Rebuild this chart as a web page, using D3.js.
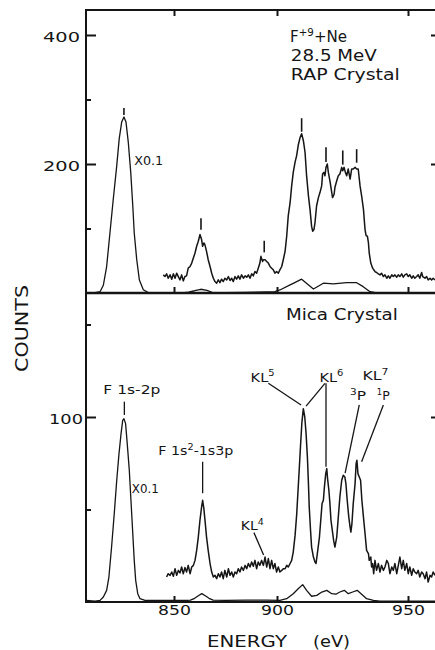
<!DOCTYPE html>
<html><head><meta charset="utf-8">
<script src="https://cdn.jsdelivr.net/npm/d3@7"></script>
<style>
body{margin:0;background:#fff}
svg{display:block}
text{font-family:"DejaVu Sans",sans-serif;fill:#151515}
</style>
</head><body>
<svg id="chart" width="435" height="650"></svg>
<script>
// ---------- data (energy in eV, counts) ----------
const energyTicks = [850, 900, 950];
const topMajorTicks = [200, 400];
const topMinorTicks = [100, 300];
const botMajorTicks = [100];
const botMinorTicks = [50, 150];

// RAP crystal, x0.1 trace
const topScaled = [
[807.3,0],[811.7,0.5],[814.1,2],[815.7,12],[817.3,41],[818.9,93],[820.5,145],[822.2,197],[823.4,239],[824.6,265],[825.7,273],
[826.7,265],[827.8,234],[829.0,187],[830.0,135],[830.7,93],[831.9,52],[833.2,20],[835.1,5],[837.5,0.5],[845,0.5],[855,0.5],
[857,1.5],[860,3.5],[863,5.8],[866,4],[868.5,1],[875,0.5],[885,0.8],[890,1.2],[895,1.8],[899,2],[901.1,4.7],[905,12.5],[906.2,15],
[909.4,21.4],[913.9,6.2],[917.7,15.2],[921.5,14],[926.6,16],[930.4,16],[932.9,9.8],[935.5,2],[938.1,0],[950,0],[961,0]
];
// RAP crystal, full-scale spectrum
const topSpectrum = [
[844.8,28.1],[845.6,25.5],[846.4,29.7],[847.2,22.9],[848.1,28.1],[848.9,21.4],[849.7,29.7],[850.5,22.9],[851.3,30.7],[852.1,25.5],
[852.9,20.3],[853.7,28.1],[854.5,18.8],[855.3,25.5],[856.1,26.6],[856.9,38.5],[857.8,41.1],[858.6,46.4],[859.4,54.2],[860.2,62],
[861.0,72.4],[861.8,80.2],[862.6,90.6],[863.4,82.8],[863.9,72.4],[864.5,77.6],[865.0,75],[865.8,64.6],[866.6,51.6],[867.5,41.1],
[868.3,30.7],[869.1,22.9],[869.9,17.7],[870.7,15.1],[871.5,20.3],[872.3,16.1],[873.1,21.4],[873.9,17.7],[874.7,22.9],[875.6,20.3],
[876.4,25.5],[877.2,19.3],[878.0,22.9],[878.8,17.7],[879.6,25.5],[880.4,21.4],[881.2,26.6],[882.0,21.4],[882.8,28.1],[883.7,22.9],
[884.5,26.6],[885.3,24.5],[886.1,28.1],[886.9,22.9],[887.7,29.7],[888.5,26.6],[889.3,33.3],[890.1,30.7],[890.9,38.5],[891.7,46.4],
[892.2,56.8],[893.0,48.9],[893.4,51.6],[894.2,51.6],[895.0,48.9],[895.8,46.4],[896.6,41.1],[897.4,38.5],[898.2,35.9],[899.0,30.7],
[899.8,33.3],[900.5,30.7],[901.1,35.9],[901.8,41.1],[902.4,51.6],[903.1,65],[903.7,88],[904.3,120],[905.0,140],[905.6,166],
[906.2,187],[906.9,203],[907.5,213],[908.1,229],[908.8,241],[909.4,247],[910.05,236.5],[910.7,218.2],[911.3,181.8],[912.0,150.5],
[912.6,129.7],[913.2,103.6],[913.6,95.8],[914.1,98.4],[914.5,108.9],[915.1,134.9],[915.8,147.9],[916.4,155.7],[917.05,166],[917.4,184.4],
[917.9,187],[918.3,181.8],[918.7,194.8],[919.2,200],[919.6,187],[920.2,174],[920.9,155.7],[921.2,147.9],[921.8,153.1],[922.1,163.5],
[922.8,174],[923.4,181.8],[924.0,184.4],[924.7,194.8],[925.1,189.6],[925.6,194.8],[926.1,187],[926.6,181.8],[927.2,192.2],[927.9,176.6],
[928.5,192.2],[929.1,192.2],[929.8,194.8],[930.4,192.2],[931.0,192.2],[931.7,166],[932.3,150.5],[933.0,129.7],[933.6,98.4],[934.0,89],
[934.5,88],[934.9,77.6],[935.2,62],[935.8,46.4],[936.5,38.5],[937.4,33.3],[938.0,31.8],[938.7,29.7],[939.3,28.1],[939.9,30.7],
[940.6,25.5],[941.2,28.1],[941.9,22.9],[942.5,26.6],[943.1,22.9],[943.8,28.1],[944.4,25.5],[945.0,28.1],[945.7,24.5],[946.3,28.1],
[946.9,25.5],[947.6,29.7],[948.2,24.5],[948.8,28.1],[949.5,29.7],[950.1,25.5],[950.7,28.1],[951.4,22.9],[952.0,26.6],[952.6,22.9],
[953.3,25.5],[953.9,28.1],[954.5,22.9],[955.2,31.8],[955.6,25.5],[956.5,22.9],[957.1,25.5],[957.7,20.3],[958.4,22.9],[959.0,20.3],
[959.6,22.9],[960.3,20.3]
];
// Mica crystal, x0.1 trace
const botScaled = [
[807.3,0.9],[811.7,0.5],[814.1,0.9],[815.7,2.7],[817.3,6.3],[818.4,13.5],[819.7,29.7],[821.0,47.8],[822.2,65.8],[823.3,80.2],
[824.3,91],[825.1,98.2],[825.7,99.1],[826.5,96.4],[827.3,85.6],[828.3,71.2],[829.1,55],[829.9,38.8],[830.7,22.5],[831.4,11.7],
[832.4,4.5],[833.5,1.8],[835.9,0.9],[845,0.9],[855,0.8],[858,1],[860,2],[862,3.5],[863.5,4.5],[865,3.5],[867,2],[869,1],
[875,0.9],[885,1],[895,1],[901.1,0.9],[903.7,1.8],[906.2,4.5],[908.1,7.2],[909.8,9.4],[911.3,6.3],[913.2,3.1],[915.2,3.6],
[917.1,5.4],[919.0,6.3],[920.9,4.5],[922.5,4.2],[924.0,5.4],[925.7,6.3],[927.2,4.5],[928.9,5.4],[930.6,6.3],[932.3,4.2],
[934.2,1.8],[936.8,0.9],[939.3,0.5],[950,0.5],[961,0.5]
];
// Mica crystal, full-scale spectrum
const botSpectrum = [
[846.4,13.5],[847.2,15.3],[848.1,14.4],[848.9,16.2],[849.7,13.9],[850.5,18],[851.3,14.4],[852.1,17.1],[852.9,15.7],[853.7,18.9],
[854.5,15.3],[855.3,18.6],[856.1,16.2],[856.9,19.8],[857.8,15.3],[858.6,18.9],[859.4,19.8],[860.2,22.5],[861.0,27.9],[861.8,35.1],
[862.6,44.2],[863.4,51.4],[863.9,55],[864.5,50.5],[865.2,42.4],[865.8,35.1],[866.6,27.9],[867.5,20.8],[868.3,16.2],[869.1,13.5],
[869.9,14.4],[870.7,12.6],[871.5,15.3],[872.3,13.5],[873.1,16.2],[873.9,12.6],[874.7,17.1],[875.6,13.5],[876.4,18],[877.2,14.4],
[878.0,16.2],[878.8,13.5],[879.6,16.2],[880.4,15.3],[881.2,18],[882.0,16.2],[882.8,18.9],[883.7,17.1],[884.5,19.8],[885.3,18],
[886.1,20.8],[886.9,18.9],[887.7,21.6],[888.5,19.3],[889.3,22.5],[890.1,18],[890.9,21.6],[891.7,19.8],[892.5,22.5],[893.4,19.8],
[894.2,24.3],[895.0,18.9],[895.8,23.5],[896.6,18],[897.4,22.5],[898.2,18],[899.0,20.8],[899.8,16.2],[900.5,18.9],[901.1,16.2],
[901.8,17.1],[902.4,18],[903.1,18],[903.7,19.8],[904.3,18.9],[905.0,20.8],[905.6,22.5],[906.2,27],[906.9,36],[907.5,47],
[908.1,62],[908.5,72],[909.0,85],[909.5,97],[910.05,104.5],[910.6,100],[911.1,91],[911.6,78.4],[912.0,64],[912.3,51.4],
[912.8,38.8],[913.2,29.7],[913.9,24.3],[914.5,21.6],[914.9,20.8],[915.4,26.2],[916.2,35.1],[916.7,44.2],[917.2,53.2],[917.7,55],
[918.1,62.2],[918.6,69.4],[919.0,72.1],[919.3,66.7],[919.8,60.4],[920.2,53.2],[920.6,44.2],[921.1,38.8],[921.6,33.4],[922.1,29.7],
[922.8,35.1],[923.4,45.9],[924.0,56.8],[924.7,65.8],[925.3,68.5],[925.9,67.6],[926.3,64],[926.8,55],[927.4,45.9],[927.9,40.5],
[928.2,37.8],[928.6,42.4],[929.1,53.2],[929.8,64],[930.2,74.8],[930.5,76.6],[930.9,69.4],[931.4,67.6],[931.9,65.8],[932.4,55],
[933.0,45.9],[933.6,37],[934.2,27.9],[934.9,26.2],[935.2,22.5],[935.8,24.3],[936.1,18.9],[936.5,20.8],[936.9,15.3],[937.4,22.5],
[938.0,17.1],[938.7,20.8],[939.3,16.2],[939.9,19.8],[940.6,17.1],[941.2,18.9],[941.9,22.5],[942.5,20.8],[943.1,15.3],[943.8,18.9],
[944.4,17.1],[945.0,20.8],[945.7,15.3],[946.3,19.8],[946.9,24.3],[947.6,18],[948.2,22.5],[948.8,17.1],[949.5,20.8],[950.1,15.3],
[950.7,18.9],[951.4,14.4],[952.0,18],[952.6,16.2],[953.3,15.3],[953.9,17.1],[954.5,13.5],[955.2,16.2],[955.8,15.3],[956.5,12.6],
[957.1,16.2],[957.7,10.8],[958.4,14.4],[959.0,13.5],[959.6,16.2],[960.3,14.4]
];
// peak markers in the RAP panel: [energy, count low, count high]
const topMarkers = [[825.7,276,287],[863.1,98,116],[893.8,63,81],[909.4,250,271],[918.7,203,226],[925.1,199,221],[930.4,202,223]];
// leader lines in the mica panel: [E1, c1, E2, c2]
const botLeaders = [
[825.9,108.3,825.9,101.1],[863.9,75.8,863.9,58.8],[888.8,37.5,893.5,25.4],[895.8,118.2,909.2,106.5],
[918.3,118.2,911.1,105.9],[918.7,118.2,918.7,73.1],[931.4,106.5,926.0,69.6],[940.6,106.5,932.3,75.8]
];

// ---------- layout ----------
const L = 86, R = 441, T = 10, M = 293, B = 602;
const svg = d3.select("#chart");
const x = d3.scaleLinear().domain(energyTicks).range([174, 277, 408]);
const yTop = d3.scaleLinear().domain([0, 400]).range([M, 35]);
const yBot = d3.scaleLinear().domain([0, 100]).range([B, 417]);

const defs = svg.append("defs");
defs.append("clipPath").attr("id","clipTop").append("rect").attr("x",L).attr("y",T).attr("width",R-L).attr("height",M-T);
defs.append("clipPath").attr("id","clipBot").append("rect").attr("x",L).attr("y",M).attr("width",R-L).attr("height",B-M);

const ink = "#151515";

function styleAxis(g){
  g.select(".domain").remove();
  g.selectAll(".tick line").attr("stroke", ink).attr("stroke-width", 2);
  g.selectAll(".tick text").attr("fill", ink).style("font-size","14.5px").attr("font-family","DejaVu Sans");
}

// left axes
svg.append("g").attr("transform",`translate(${L},0)`)
  .call(d3.axisLeft(yTop).tickValues(topMajorTicks).tickSize(-10).tickPadding(6))
  .call(styleAxis).call(g=>g.selectAll(".tick text").attr("dy","0.45em").attr("textLength",37).attr("lengthAdjust","spacingAndGlyphs"));
svg.append("g").attr("transform",`translate(${L},0)`)
  .call(d3.axisLeft(yTop).tickValues(topMinorTicks).tickSize(-5).tickFormat(""))
  .call(styleAxis);
svg.append("g").attr("transform",`translate(${L},0)`)
  .call(d3.axisLeft(yBot).tickValues(botMajorTicks).tickSize(-10).tickPadding(3))
  .call(styleAxis).call(g=>g.selectAll(".tick text").attr("dy","0.45em").attr("textLength",34).attr("lengthAdjust","spacingAndGlyphs"));
svg.append("g").attr("transform",`translate(${L},0)`)
  .call(d3.axisLeft(yBot).tickValues(botMinorTicks).tickSize(-5).tickFormat(""))
  .call(styleAxis);
// right axes
svg.append("g").attr("transform",`translate(${R},0)`)
  .call(d3.axisRight(yTop).tickValues(topMajorTicks).tickSize(-10).tickFormat("")).call(styleAxis);
svg.append("g").attr("transform",`translate(${R},0)`)
  .call(d3.axisRight(yBot).tickValues(botMajorTicks).tickSize(-10).tickFormat("")).call(styleAxis);
// x ticks
svg.append("g").attr("transform",`translate(0,${T})`)
  .call(d3.axisTop(x).tickValues(energyTicks).tickSize(-6).tickFormat("")).call(styleAxis);
svg.append("g").attr("transform",`translate(0,${M})`)
  .call(d3.axisBottom(x).tickValues(energyTicks).tickSize(-6).tickFormat("")).call(styleAxis);
svg.append("g").attr("transform",`translate(0,${B})`)
  .call(d3.axisBottom(x).tickValues(energyTicks).tickSize(-6).tickPadding(3))
  .call(styleAxis).call(g=>g.selectAll(".tick text").attr("textLength",33).attr("lengthAdjust","spacingAndGlyphs"));

// frame
const frame = svg.append("g").attr("stroke", ink).attr("stroke-width", 2).attr("fill","none");
frame.append("path").attr("d", `M${R},${T}H${L}V${B}H${R}`);
frame.append("path").attr("d", `M${L},${M}H${R}`).attr("stroke-width", 2.4);

// curves
const lineTop = d3.line().x(d=>x(d[0])).y(d=>yTop(d[1]));
const lineBot = d3.line().x(d=>x(d[0])).y(d=>yBot(d[1]));
const gTop = svg.append("g").attr("clip-path","url(#clipTop)").attr("fill","none").attr("stroke",ink).attr("stroke-linejoin","round");
gTop.append("path").datum(topScaled).attr("d", lineTop).attr("stroke-width",1.3);
gTop.append("path").datum(topSpectrum).attr("d", lineTop).attr("stroke-width",1.5);
const gBot = svg.append("g").attr("clip-path","url(#clipBot)").attr("fill","none").attr("stroke",ink).attr("stroke-linejoin","round");
gBot.append("path").datum(botScaled).attr("d", lineBot).attr("stroke-width",1.3);
gBot.append("path").datum(botSpectrum).attr("d", lineBot).attr("stroke-width",1.5);

// markers & leaders
svg.append("g").attr("stroke",ink).attr("stroke-width",1.6)
  .selectAll("line").data(topMarkers).join("line")
  .attr("x1",d=>x(d[0])).attr("x2",d=>x(d[0])).attr("y1",d=>yTop(d[1])).attr("y2",d=>yTop(d[2]));
svg.append("g").attr("stroke",ink).attr("stroke-width",1.3)
  .selectAll("line").data(botLeaders).join("line")
  .attr("x1",d=>x(d[0])).attr("y1",d=>yBot(d[1])).attr("x2",d=>x(d[2])).attr("y2",d=>yBot(d[3]));

// ---------- text ----------
function label(parent, ex, cy, ys, parts, size, len){
  const t = parent.append("text").attr("x", x(ex)).attr("y", ys(cy)).style("font-size", size+"px");
  parts.forEach(p=>{
    const s = t.append("tspan").text(p.t);
    if(p.sup){ s.style("font-size",(size*0.68)+"px").attr("dy", -size*0.42); }
    if(p.down){ s.attr("dy", size*0.42); }
  });
  if(len) t.attr("textLength", len).attr("lengthAdjust","spacingAndGlyphs");
  return t;
}
const tg = svg.append("g");
// top panel
label(tg, 905.0, 389.1, yTop, [{t:"F"},{t:"+9",sup:true},{t:"+Ne",down:true}], 15, 57);
label(tg, 905.3, 359.7, yTop, [{t:"28.5 MeV"}], 15, 86);
label(tg, 905.3, 330.2, yTop, [{t:"RAP Crystal"}], 15, 109);
label(tg, 830.7, 198.4, yTop, [{t:"X0.1"}], 11.5, 29);
// bottom panel
label(tg, 903.4, 152.4, yBot, [{t:"Mica Crystal"}], 15, 112);
label(tg, 815.7, 112.4, yBot, [{t:"F 1s-2p"}], 12.5, 57);
label(tg, 829.5, 58.9, yBot, [{t:"X0.1"}], 11.5, 27);
label(tg, 842.4, 79.5, yBot, [{t:"F 1s"},{t:"2",sup:true},{t:"-1s3p",down:true}], 12.5, 75);
label(tg, 882.4, 38.9, yBot, [{t:"KL"},{t:"4",sup:true}], 12.5, 23);
label(tg, 887.2, 119.1, yBot, [{t:"KL"},{t:"5",sup:true}], 12.5, 24);
label(tg, 916.2, 119.1, yBot, [{t:"KL"},{t:"6",sup:true}], 12.5, 24);
label(tg, 932.6, 120, yBot, [{t:"KL"},{t:"7",sup:true}], 12.5, 26);
label(tg, 927.9, 109.2, yBot, [{t:"3",sup:true},{t:"P",down:true}], 12.5, 16);
label(tg, 938.1, 109.2, yBot, [{t:"1",sup:true},{t:"P",down:true}], 12.5, 13);

// axis titles
svg.append("text").attr("transform","translate(28,328.5) rotate(-90)").attr("text-anchor","middle")
  .style("font-size","18px").attr("textLength",87).attr("lengthAdjust","spacingAndGlyphs").text("COUNTS");
svg.append("text").attr("x",207).attr("y",647).style("font-size","15.5px")
  .attr("textLength",80).attr("lengthAdjust","spacingAndGlyphs").text("ENERGY");
svg.append("text").attr("x",313).attr("y",647).style("font-size","15.5px")
  .attr("textLength",37).attr("lengthAdjust","spacingAndGlyphs").text("(eV)");
</script>
</body></html>
